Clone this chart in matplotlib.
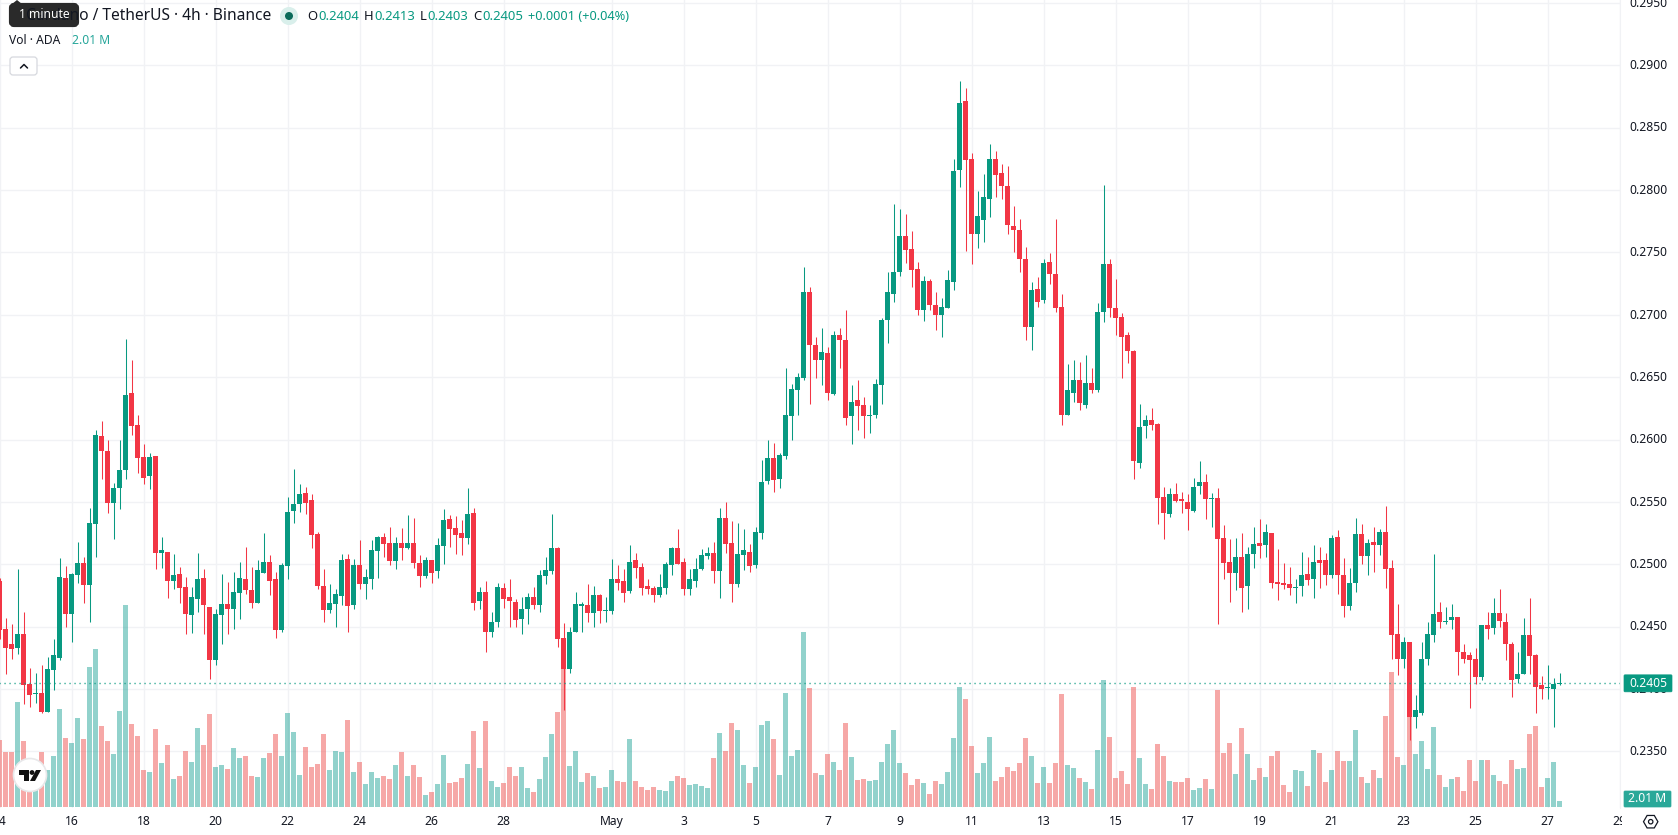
"""
ADA/USDT 4h candlestick chart with a volume overlay, laid out like a trading terminal pane.

Run:
    python plot.py
"""

import matplotlib
matplotlib.use("Agg")
import matplotlib.pyplot as plt
import numpy as np
from matplotlib.patches import Circle, FancyBboxPatch, Polygon, RegularPolygon
from matplotlib.transforms import Bbox, ScaledTranslation

plt.rcParams["font.family"] = ["Noto Sans", "DejaVu Sans"]

WIDTH, HEIGHT = 1678, 835
AXIS_X = 1620        # left edge of the price scale
PANE_BOTTOM = 808

GREEN = "#089981"
RED = "#F23645"
VOL_GREEN = "#26a69a"
VOL_RED = "#ef5350"
GRID = "#f1f2f5"
TEXT = "#131722"

# 4h candles, prices in units of 0.0001 USDT
opens = [
    2487, 2448, 2436, 2433, 2444.5, 2404, 2396, 2397, 2382, 2415,
    2425, 2489, 2460.5, 2491.5, 2501, 2483.5, 2532.5, 2603, 2591, 2549.5,
    2561.5, 2575.5, 2637, 2612, 2586, 2570.5, 2587, 2509, 2510, 2487,
    2492, 2482, 2459, 2472.5, 2489, 2466, 2423.5, 2459, 2468, 2464.5,
    2477, 2488, 2479.5, 2469, 2493, 2502, 2488, 2447, 2498.5, 2542.5,
    2548, 2557, 2551.5, 2524, 2483, 2463, 2468, 2474.5, 2504, 2467,
    2499.5, 2484, 2488, 2510.5, 2521.5, 2517, 2502.5, 2517, 2513, 2517,
    2501, 2490.5, 2503.5, 2494.5, 2514.5, 2536, 2529, 2525, 2521, 2541,
    2470.5, 2477.5, 2445.5, 2453.5, 2481, 2473.5, 2469.5, 2456, 2464.5, 2473.5,
    2467, 2490.5, 2494.5, 2513, 2441, 2416, 2445.5, 2466.5, 2467, 2461,
    2475, 2462.5, 2462.5, 2488, 2487, 2478.5, 2503.5, 2498, 2483, 2481,
    2475, 2481, 2499.5, 2513, 2502, 2480, 2487, 2496, 2506.5, 2509,
    2494.5, 2537, 2517, 2484, 2507.5, 2510, 2499.5, 2525, 2566.5, 2585,
    2568, 2586.5, 2618.5, 2639.5, 2649.5, 2718, 2676, 2663.5, 2669, 2636.5,
    2684, 2679.5, 2618.5, 2631.5, 2627.5, 2618.5, 2620, 2644, 2696, 2717,
    2734, 2763, 2752.5, 2736.5, 2704, 2727, 2708, 2699.5, 2705, 2726,
    2816, 2871, 2825, 2765, 2776, 2793, 2825, 2813.5, 2803, 2771,
    2768, 2745, 2690, 2721, 2711.5, 2742, 2733, 2706, 2619.5, 2637,
    2648, 2628, 2645, 2639.5, 2702, 2740.5, 2705, 2698, 2684, 2671,
    2581, 2611, 2615.5, 2612.5, 2554, 2540, 2556.5, 2552.5, 2550, 2543,
    2563, 2566, 2552, 2553.5, 2521, 2502, 2493, 2506, 2482.5, 2508,
    2517, 2515.5, 2525, 2486, 2485, 2484, 2481, 2482.5, 2492, 2488,
    2503.5, 2503.5, 2491.5, 2522, 2491.5, 2466.5, 2485, 2524.5, 2507, 2518,
    2515.5, 2526, 2497, 2444.5, 2424, 2438, 2378, 2380.5, 2424, 2443,
    2461.5, 2453.5, 2455, 2457.5, 2429.5, 2427, 2424, 2409.5, 2451, 2449,
    2461, 2453.5, 2436, 2408, 2412, 2443, 2427, 2403, 2400.5, 2400,
    2404,
]
highs = [
    2489, 2457, 2452, 2496, 2462, 2417, 2413, 2419, 2426, 2440,
    2505, 2499, 2493, 2518, 2506, 2545, 2608, 2615, 2599.5, 2565,
    2599.5, 2680.5, 2664, 2620, 2596, 2589, 2587, 2522, 2510, 2508.5,
    2498, 2490, 2482, 2509, 2496, 2466, 2464.5, 2492, 2486, 2494,
    2502, 2514, 2498, 2503.5, 2525, 2507.5, 2494, 2501, 2554, 2576,
    2564, 2562, 2556, 2526, 2496, 2484, 2480.5, 2508, 2508, 2504,
    2519.5, 2496, 2519.5, 2523, 2525, 2530, 2521.5, 2529, 2539.5, 2537,
    2507.5, 2506, 2503.5, 2521, 2544, 2539.5, 2538.5, 2535.5, 2561, 2545,
    2481.5, 2487, 2461.5, 2485, 2485, 2488, 2472, 2473.5, 2477, 2482,
    2495.5, 2506, 2540, 2514, 2453, 2449.5, 2478, 2469.5, 2484, 2483,
    2476, 2473.5, 2504, 2499.5, 2496.5, 2515.5, 2509, 2501, 2488, 2483,
    2492, 2502, 2514, 2528, 2505, 2496, 2505, 2512, 2514, 2518,
    2545, 2550, 2535, 2533, 2528, 2516, 2530, 2583.5, 2599.5, 2597,
    2589, 2657.5, 2644.5, 2653.5, 2738, 2722.5, 2682.5, 2689, 2674, 2687,
    2689, 2704, 2644, 2647.5, 2634, 2627.5, 2648.5, 2697, 2734, 2788.5,
    2785, 2781, 2767, 2742, 2731, 2728.5, 2718.5, 2713, 2736, 2825,
    2887, 2882, 2829.5, 2799, 2813, 2837, 2831, 2821, 2819.5, 2787,
    2776.5, 2754, 2726, 2730, 2744.5, 2749.5, 2776.5, 2716.5, 2660.5, 2664,
    2662, 2667.5, 2657.5, 2709, 2804, 2744.5, 2729, 2701, 2686, 2672,
    2628.5, 2620, 2625, 2613, 2562, 2561, 2565.5, 2558, 2556, 2569.5,
    2582.5, 2572.5, 2557, 2561, 2531.5, 2520.5, 2521, 2525, 2514, 2530,
    2536, 2532.5, 2525, 2512, 2501, 2498, 2488, 2510, 2506, 2515.5,
    2514, 2509, 2523.5, 2527.5, 2505, 2497, 2537, 2532.5, 2520.5, 2530,
    2528, 2546.5, 2503.5, 2468, 2442, 2438, 2395, 2438, 2454, 2508.5,
    2470, 2465.5, 2468, 2457.5, 2436.5, 2429.5, 2433, 2451, 2462, 2473,
    2480, 2461, 2437.5, 2429.5, 2457, 2473, 2428, 2410.5, 2419, 2409,
    2413,
]
lows = [
    2440, 2412, 2424, 2428, 2388, 2386, 2389, 2381, 2381.5, 2399,
    2423.5, 2450, 2438, 2485, 2469, 2454, 2506, 2568, 2541, 2520.5,
    2544, 2568, 2604, 2573, 2564, 2560.5, 2496, 2497, 2473, 2480,
    2469, 2444.5, 2445, 2462, 2444, 2408, 2419, 2436.5, 2444, 2448.5,
    2456.5, 2476.5, 2465, 2469, 2493, 2475, 2441, 2446, 2488, 2533,
    2542, 2540, 2513, 2480.5, 2453.5, 2461, 2449.5, 2467, 2446, 2464.5,
    2480.5, 2472, 2480, 2489, 2506, 2499.5, 2496, 2503.5, 2512, 2497,
    2482, 2489, 2485, 2489, 2500, 2513.5, 2508, 2507.5, 2516, 2463,
    2464.5, 2430, 2441.5, 2450, 2465, 2450, 2450, 2444, 2452.5, 2464,
    2461.5, 2484, 2492, 2433.5, 2383, 2413, 2445.5, 2445.5, 2454, 2450,
    2453, 2454, 2460, 2479, 2470, 2477, 2489, 2475, 2476, 2470,
    2473.5, 2476, 2491.5, 2500, 2475, 2475, 2482, 2495.5, 2504, 2485,
    2473, 2509, 2470, 2481.5, 2495.5, 2494, 2497, 2520, 2564, 2558,
    2561, 2584, 2600, 2620, 2648, 2628.5, 2649.5, 2644, 2632, 2635.5,
    2657.5, 2611.5, 2596, 2608, 2601, 2605, 2617, 2628.5, 2677, 2710,
    2731, 2741.5, 2722.5, 2700, 2695, 2704, 2688, 2682, 2705, 2720,
    2802, 2751, 2741, 2753.5, 2758, 2778, 2794, 2793, 2765, 2750,
    2734, 2679.5, 2672, 2706.5, 2709, 2725, 2702.5, 2612, 2619.5, 2630,
    2623.5, 2625, 2637, 2638, 2694, 2698, 2684, 2649.5, 2661, 2568,
    2577, 2601, 2607.5, 2532.5, 2520, 2537.5, 2550, 2541, 2527.5, 2542,
    2556, 2536, 2530, 2452.5, 2488, 2470, 2479.5, 2462, 2464, 2497,
    2505, 2506, 2481, 2471, 2480, 2475.5, 2469, 2474.5, 2483.5, 2473,
    2481, 2483.5, 2489, 2476, 2458, 2463, 2478, 2500, 2491.5, 2494,
    2507.5, 2481, 2424.5, 2411, 2417, 2359, 2369, 2379, 2419, 2438,
    2449, 2452, 2448, 2411, 2420.5, 2385, 2404, 2407, 2440, 2444,
    2449.5, 2423.5, 2394, 2405, 2412, 2412, 2381, 2392, 2392, 2370,
    2403,
]
closes = [
    2447.5, 2433, 2432.5, 2444.5, 2403.5, 2395, 2396.5, 2382, 2416, 2427.5,
    2490, 2460, 2492, 2501, 2483.5, 2533, 2604, 2591, 2549.5, 2561.5,
    2575.5, 2636, 2611, 2585, 2569, 2586, 2509, 2511.5, 2487, 2491.5,
    2481, 2460, 2473.5, 2488, 2467, 2423.5, 2460, 2468, 2464.5, 2478,
    2489, 2479, 2469, 2495.5, 2502, 2487, 2447, 2499.5, 2542, 2548,
    2556, 2549, 2523.5, 2483, 2463, 2469, 2476, 2503.5, 2466.5, 2499.5,
    2484, 2490, 2511.5, 2521.5, 2516, 2502.5, 2517, 2513, 2517, 2501,
    2490.5, 2503.5, 2493, 2515.5, 2535.5, 2528, 2523.5, 2521, 2540, 2469,
    2477.5, 2445.5, 2453.5, 2482, 2472, 2470.5, 2455, 2464.5, 2473.5, 2467,
    2491.5, 2495.5, 2513, 2440, 2416, 2445.5, 2468, 2468, 2461, 2475,
    2462.5, 2463, 2488, 2485, 2477, 2501.5, 2497, 2481, 2480, 2475,
    2482, 2500, 2513, 2500, 2480, 2488, 2496, 2507.5, 2509, 2494.5,
    2537, 2516, 2484, 2508, 2511.5, 2498.5, 2526, 2566, 2585, 2567.5,
    2587.5, 2620, 2640.5, 2650, 2718, 2675.5, 2663.5, 2670, 2637, 2684,
    2679.5, 2617, 2630, 2627, 2618.5, 2620, 2644.5, 2696, 2718, 2734,
    2763, 2752, 2736, 2703.5, 2727, 2707.5, 2699.5, 2706.5, 2728, 2815,
    2870, 2824, 2765, 2779, 2794, 2825, 2812, 2803.5, 2771.5, 2768,
    2745, 2690, 2720, 2710, 2741.5, 2732.5, 2705, 2619.5, 2639.5, 2648,
    2629, 2645, 2639.5, 2702.5, 2740.5, 2705, 2697, 2682, 2671, 2582.5,
    2610, 2616, 2611.5, 2553.5, 2541, 2556.5, 2551, 2551, 2544, 2562,
    2566, 2552, 2553.5, 2520.5, 2501, 2493, 2506, 2481, 2508, 2516,
    2514.5, 2526, 2485, 2484, 2483.5, 2481, 2481.5, 2491.5, 2487.5, 2502,
    2501, 2491.5, 2521, 2491.5, 2466.5, 2485, 2524.5, 2507, 2517, 2515.5,
    2526, 2496.5, 2443, 2424, 2438, 2378, 2383, 2424, 2444, 2460.5,
    2453.5, 2454, 2457.5, 2429.5, 2424.5, 2423, 2409.5, 2451, 2448, 2461,
    2454.5, 2436, 2407, 2412, 2443, 2426.5, 2401.5, 2400, 2401, 2404,
    2405,
]

# volume in millions of ADA
volumes = [
    22.4, 18.4, 18.4, 35.2, 22.1, 9.8, 9.8, 18.4, 12.5, 17.1,
    32.8, 23.1, 21.5, 29.8, 22.7, 46.9, 52.9, 27.1, 22.1, 17.7,
    32.1, 67.7, 27.8, 23.8, 12.5, 11.8, 26.2, 14.7, 20.8, 9.4,
    10.4, 18.7, 15.1, 26.5, 20.8, 31.2, 13.4, 14.1, 12.7, 19.8,
    16.5, 17.1, 10.4, 10.1, 16.5, 18.1, 24.5, 17.1, 31.5, 25.1,
    10.7, 20.1, 13.4, 14.4, 24.5, 12.4, 18.8, 18.4, 29.2, 11.7,
    15.1, 7.7, 11.7, 9.7, 10.4, 9.4, 14.1, 18.4, 10.4, 14.1,
    10.1, 4.0, 5.0, 7.7, 17.4, 8.0, 8.4, 9.7, 14.4, 25.5,
    13.1, 28.8, 8.7, 6.7, 8.0, 13.4, 10.4, 13.4, 6.4, 5.0,
    9.4, 16.8, 24.5, 31.8, 48.0, 13.7, 18.8, 8.4, 11.4, 10.4,
    6.4, 6.7, 12.4, 8.7, 8.4, 22.8, 8.7, 6.7, 5.7, 6.7,
    5.7, 5.4, 8.7, 10.4, 9.7, 7.4, 7.7, 7.0, 6.4, 16.4,
    24.8, 18.8, 28.1, 25.8, 14.1, 8.0, 13.4, 27.5, 28.8, 22.8,
    10.7, 38.2, 17.1, 19.1, 58.6, 39.9, 11.4, 10.7, 17.8, 15.1,
    12.4, 28.1, 16.8, 9.0, 9.4, 8.7, 9.0, 15.1, 21.1, 25.8,
    14.7, 11.4, 7.4, 9.4, 8.0, 4.4, 8.7, 7.7, 11.7, 23.1,
    40.2, 36.2, 20.4, 11.4, 14.7, 23.5, 8.7, 10.1, 13.4, 12.1,
    14.7, 23.1, 17.1, 8.0, 13.4, 8.0, 14.7, 37.9, 14.1, 13.1,
    9.7, 8.4, 6.0, 19.1, 42.6, 23.5, 9.7, 12.1, 7.7, 40.2,
    16.4, 7.7, 6.0, 21.1, 17.1, 8.7, 8.4, 8.4, 9.7, 5.7,
    6.4, 9.4, 6.0, 39.2, 18.1, 21.4, 11.1, 26.5, 17.8, 9.0,
    13.1, 10.1, 17.1, 18.8, 7.4, 5.0, 12.4, 12.1, 7.0, 19.1,
    18.1, 8.4, 12.4, 18.8, 15.4, 15.4, 25.8, 10.1, 8.0, 12.4,
    9.7, 30.5, 45.2, 16.8, 14.1, 31.0, 17.8, 22.1, 12.7, 26.8,
    10.7, 6.7, 9.4, 10.1, 5.4, 15.7, 8.7, 15.7, 15.7, 10.7,
    8.7, 7.7, 15.7, 12.7, 13.1, 24.5, 27.1, 6.7, 9.7, 15.1,
    2.01,
]

# candle index of each date label (six candles a day, first one 14 Apr 00:00)
date_ticks = [0, 12, 24, 36, 48, 60, 72, 84, 102, 114, 126, 138, 150, 162, 174,
              186, 198, 210, 222, 234, 246, 258, 270]
date_labels = ["14", "16", "18", "20", "22", "24", "26", "28", "May", "3", "5", "7", "9",
               "11", "13", "15", "17", "19", "21", "23", "25", "27", "29"]
price_ticks = [0.2350, 0.2400, 0.2450, 0.2500, 0.2550, 0.2600, 0.2650, 0.2700, 0.2750,
               0.2800, 0.2850, 0.2900, 0.2950]

symbol_title = "Cardano / TetherUS · 4h · Binance"
ohlc_values = ["0.2404", "0.2413", "0.2403", "0.2405"]
change_text = "+0.0001 (+0.04%)"
last_volume_text = "2.01 M"


def draw_price_pane(fig):
    o = np.array(opens) / 1e4
    h = np.array(highs) / 1e4
    l = np.array(lows) / 1e4
    c = np.array(closes) / 1e4
    v = np.array(volumes)
    idx = np.arange(len(o))
    up = c >= o

    # axes reach a little past the left edge so the first candle is cut by the canvas
    left = -6.5 / WIDTH
    ax = fig.add_axes([left, 1 - PANE_BOTTOM / HEIGHT, (AXIS_X + 6.5) / WIDTH, PANE_BOTTOM / HEIGHT])
    ax.set_xlim(-1, (AXIS_X + 0.5) / 6)
    ax.set_ylim(0.23047, 0.29522)

    vol_ax = ax.twinx()
    vol_ax.set_ylim(-0.335, 270.3)
    vol_ax.axis("off")

    ax.yaxis.tick_right()
    ax.set_yticks(price_ticks)
    ax.set_yticklabels([f"{p:.4f}" for p in price_ticks], fontsize=8.7, color=TEXT)
    ax.set_xticks(date_ticks)
    ax.set_xticklabels(date_labels, fontsize=8.7, color=TEXT)
    ax.tick_params(axis="both", length=0)
    ax.tick_params(axis="y", pad=7)
    ax.tick_params(axis="x", pad=5)
    ax.grid(True, color=GRID, linewidth=1.0)
    ax.set_axisbelow(True)
    for label in ax.get_xticklabels():
        if label.get_text() == "May":
            label.set_fontweight("bold")
        # the last date is cut where the price scale starts
        label.set_clip_box(Bbox([[0, 0], [AXIS_X + 2, HEIGHT]]))
        label.set_clip_on(True)
    nudge_up = ScaledTranslation(0, 1.2 / 100, fig.dpi_scale_trans)
    for label in ax.get_yticklabels():
        label.set_transform(label.get_transform() + nudge_up)
    for name, spine in ax.spines.items():
        spine.set_visible(name == "right")
        spine.set_color(GRID)

    # volume goes under the candles, in its own scale
    ax.bar(idx[up], v[up], width=5 / 6, color=VOL_GREEN, alpha=0.5, linewidth=0,
           transform=vol_ax.transData, zorder=1)
    ax.bar(idx[~up], v[~up], width=5 / 6, color=VOL_RED, alpha=0.5, linewidth=0,
           transform=vol_ax.transData, zorder=1)

    colors = np.where(up, GREEN, RED)
    ax.vlines(idx, l, h, colors=colors, linewidth=0.75, zorder=2)
    body_low = np.minimum(o, c)
    body_height = np.maximum(np.abs(c - o), 0.0001)  # dojis still show as a thin bar
    ax.bar(idx, body_height, bottom=body_low, width=5 / 6, color=colors, linewidth=0, zorder=3)

    ax.axhline(c[-1], color=GREEN, linewidth=1.0, linestyle=(0, (0.8, 2.8)), zorder=4)
    return ax, c[-1]


def draw_overlay(fig, ax, last_close):
    ui = fig.add_axes([0, 0, 1, 1])
    ui.set_xlim(0, WIDTH)
    ui.set_ylim(HEIGHT, 0)
    ui.axis("off")

    # symbol line
    ui.text(271, 16, symbol_title, fontsize=11.2, color=TEXT, ha="right", va="center")
    ui.add_patch(Circle((289, 16), 9, color="#d9efeb", linewidth=0))
    ui.add_patch(Circle((289, 16), 4, color="#0b6b5a", linewidth=0))
    for name, name_x, value, value_x in zip("OHLC", [307, 364, 420, 473], ohlc_values, [318, 374, 427, 482]):
        ui.text(name_x, 16, name, fontsize=9.4, color=TEXT, va="center")
        ui.text(value_x, 16, value, fontsize=9.4, color=GREEN, va="center")
    ui.text(528, 16, change_text, fontsize=9.2, color=GREEN, va="center")

    # tooltip over the start of the symbol line
    ui.add_patch(FancyBboxPatch((11, 5), 66, 20, boxstyle="round,pad=0,rounding_size=3",
                                facecolor="#2a2a2a", edgecolor="#2a2a2a", linewidth=3))
    ui.add_patch(Polygon([[12, 4], [17, 0], [22, 4]], closed=True, facecolor="#2a2a2a", linewidth=0))
    ui.text(44, 15, "1 minute", fontsize=8.7, color="white", ha="center", va="center")

    # volume legend and collapse button
    ui.text(9, 41, "Vol · ADA", fontsize=8.7, color=TEXT, va="center")
    ui.text(72, 41, last_volume_text, fontsize=8.7, color=VOL_GREEN, va="center")
    ui.add_patch(FancyBboxPatch((10, 57), 27, 18, boxstyle="round,pad=0,rounding_size=3",
                                facecolor="white", edgecolor="#d6d8de", linewidth=0.9))
    ui.plot([20.5, 24, 27.5], [68, 64.5, 68], color=TEXT, linewidth=1.1, solid_capstyle="round")

    # last price and last volume tags on the price scale
    price_y = ax.transData.transform((0, last_close))[1]
    price_y = HEIGHT - price_y
    ui.add_patch(FancyBboxPatch((1624, price_y - 8), 48, 17, boxstyle="round,pad=0,rounding_size=1",
                                facecolor=GREEN, edgecolor=GREEN, linewidth=0.5))
    ui.text(1648, price_y + 0.5, f"{last_close:.4f}", fontsize=8.7, color="white", ha="center", va="center")
    ui.add_patch(FancyBboxPatch((1624, 791), 47, 16, boxstyle="round,pad=0,rounding_size=1",
                                facecolor="#2aa899", edgecolor="#2aa899", linewidth=0.5))
    ui.text(1647.5, 799, last_volume_text, fontsize=8.7, color="white", ha="center", va="center")

    # logo badge
    ui.add_patch(Circle((30, 775), 16.5, facecolor="white", edgecolor="#e8e8ea", linewidth=1.2))
    ui.add_patch(Polygon([[19, 770], [29, 770], [29, 781], [24, 781], [24, 775], [19, 775]],
                         closed=True, facecolor="#111111", linewidth=0))
    ui.add_patch(Circle((32, 772.5), 2.4, facecolor="#111111", linewidth=0))
    ui.add_patch(Polygon([[36, 770], [41, 770], [35, 781], [30, 781]],
                         closed=True, facecolor="#111111", linewidth=0))

    # settings hexagon under the price scale
    ui.add_patch(RegularPolygon((1650.7, 821.7), 6, radius=7.2, orientation=np.pi / 2,
                                facecolor="none", edgecolor=TEXT, linewidth=0.9))
    ui.add_patch(Circle((1650.7, 821.7), 2.2, facecolor="none", edgecolor=TEXT, linewidth=0.9))


def main():
    fig = plt.figure(figsize=(WIDTH / 100, HEIGHT / 100), dpi=100, facecolor="white")
    ax, last_close = draw_price_pane(fig)
    draw_overlay(fig, ax, last_close)
    fig.savefig("out.png", dpi=100)
    plt.close(fig)


if __name__ == "__main__":
    main()
